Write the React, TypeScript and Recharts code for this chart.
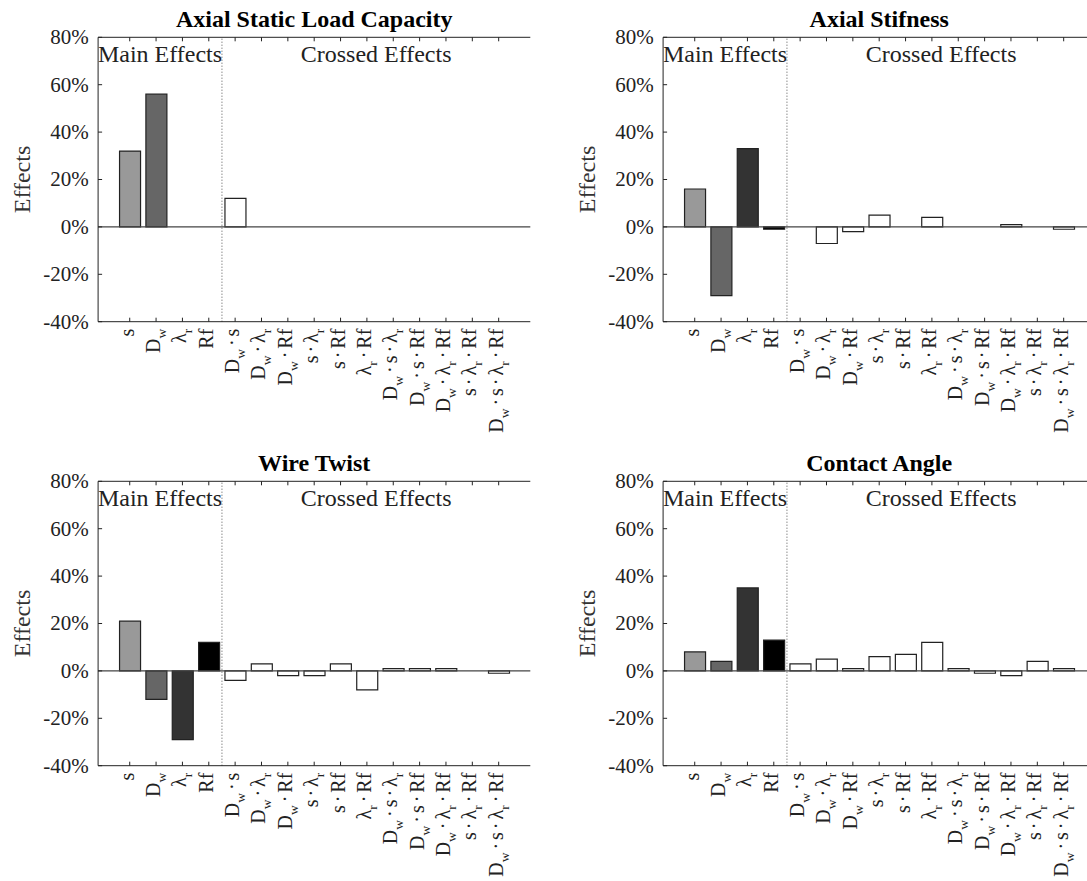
import React from 'react';
import { BarChart, Bar, Cell, XAxis, YAxis, ReferenceLine, ReferenceArea, Label } from 'recharts';

// effect names: "_x" marks a one-letter subscript
const effects = [
  's', 'D_w', 'λ_r', 'Rf',
  'D_w·s', 'D_w·λ_r', 'D_w·Rf', 's·λ_r', 's·Rf', 'λ_r·Rf',
  'D_w·s·λ_r', 'D_w·s·Rf', 'D_w·λ_r·Rf', 's·λ_r·Rf', 'D_w·s·λ_r·Rf',
];

// effects in %
const loadCapacity = [32, 56, 0, 0, 12, 0, 0, 0, 0, 0, 0, 0, 0, 0, 0];
const axialStiffness = [16, -29, 33, -1, 0, -7, -2, 5, 0, 4, 0, 0, 1, 0, -1];
const wireTwist = [21, -12, -29, 12, -4, 3, -2, -2, 3, -8, 1, 1, 1, 0, -1];
const contactAngle = [8, 4, 35, 13, 3, 5, 1, 6, 7, 12, 1, -1, -2, 4, 1];

const percentTicks = [-40, -20, 0, 20, 40, 60, 80];
const effectTicks = effects.map((_, i) => i + 1);
const MAIN_COUNT = 4;

const FONT = '"Liberation Serif", "Times New Roman", serif';
const INK = '#222';
const mainFills = ['#999999', '#666666', '#333333', '#000000'];

const AXIS_W = 98.1;
const PLOT_W = 432.2;
const PLOT_H = 284.4;
const TOP = 36.3;
const XAXIS_H = 122.3;
const CHART_W = AXIS_W + PLOT_W + 2;
const CHART_H = TOP + 1 + PLOT_H + XAXIS_H;
const TICK_LEN = 4;
const MARGIN = 6;

type Part = { text: string; sub?: boolean; dot?: boolean };

function splitLabel(label: string) {
  const parts: Part[] = [];
  label.split(/(_.|·)/).forEach((p) => {
    if (!p) return;
    if (p === '·') parts.push({ text: '·', dot: true });
    else if (p.startsWith('_')) parts.push({ text: p.slice(1), sub: true });
    else parts.push({ text: p });
  });
  return parts;
}

// rotated effect names under the axis, plus the inward tick mark
const EffectTick = ({ x, y, payload }: any) => {
  const parts = splitLabel(effects[Math.round(payload.value) - 1] ?? '');
  const axisY = y - MARGIN;
  let lowered = false;
  let afterDot = false;
  return (
    <g>
      <line x1={x} x2={x} y1={axisY} y2={axisY - TICK_LEN} stroke={INK} />
      <text
        transform={`translate(${x + 4},${axisY + 7}) rotate(-90)`}
        textAnchor="end"
        fontFamily={FONT}
        fontSize={20}
        fill={INK}
      >
        {parts.map((p, i) => {
          const dy = p.sub ? 6 : lowered ? -6 : 0;
          const dx = p.dot || afterDot ? 3 : 0;
          lowered = !!p.sub;
          afterDot = !!p.dot;
          return (
            <tspan key={i} dx={dx} dy={dy} fontSize={p.sub ? 13.5 : 20}>
              {p.text}
            </tspan>
          );
        })}
      </text>
    </g>
  );
};

const TopTick = ({ x, y }: any) => (
  <line x1={x} x2={x} y1={y + MARGIN} y2={y + MARGIN + TICK_LEN} stroke={INK} />
);

const PercentTick = ({ x, y, payload }: any) => (
  <g>
    <line x1={x + MARGIN} x2={x + MARGIN + TICK_LEN} y1={y} y2={y} stroke={INK} />
    <text x={x - 3.3} y={y} textAnchor="end" dominantBaseline="central" fontFamily={FONT} fontSize={21} fill={INK}>
      {`${payload.value}%`}
    </text>
  </g>
);

const RightTick = ({ x, y }: any) => (
  <line x1={x - MARGIN} x2={x - MARGIN - TICK_LEN} y1={y} y2={y} stroke={INK} />
);

const EffectsPanel = ({ title, values, left, top }: { title: string; values: number[]; left: number; top: number }) => {
  const rows = effects.map((name, i) => ({ pos: i + 1, name, value: values[i] }));
  return (
    <div style={{ position: 'absolute', left, top }}>
      <BarChart width={CHART_W} height={CHART_H} data={rows} margin={{ top: TOP, right: 2, bottom: 0, left: 0 }}>
        <XAxis
          xAxisId="b"
          dataKey="pos"
          type="number"
          domain={[-0.2, 16.2]}
          allowDataOverflow
          ticks={effectTicks}
          interval={0}
          height={XAXIS_H}
          tickLine={false}
          tickSize={0}
          tickMargin={MARGIN}
          tick={<EffectTick />}
          stroke={INK}
        />
        <XAxis
          xAxisId="t"
          orientation="top"
          dataKey="pos"
          type="number"
          domain={[-0.2, 16.2]}
          allowDataOverflow
          ticks={effectTicks}
          interval={0}
          height={1}
          tickLine={false}
          tickSize={0}
          tickMargin={MARGIN}
          tick={<TopTick />}
          stroke={INK}
        >
          <Label
            value={title}
            position="top"
            offset={9}
            fontFamily={FONT}
            fontSize={24}
            fontWeight="bold"
            fill="#000"
          />
        </XAxis>
        <YAxis
          yAxisId="l"
          domain={[-40, 80]}
          allowDataOverflow
          ticks={percentTicks}
          interval={0}
          width={AXIS_W}
          tickLine={false}
          tickSize={0}
          tickMargin={MARGIN}
          tick={<PercentTick />}
          stroke={INK}
        >
          <Label
            content={({ viewBox }: any) => {
              const cx = viewBox.x + 22.4;
              const cy = viewBox.y + viewBox.height / 2;
              return (
                <text
                  x={cx}
                  y={cy}
                  transform={`rotate(-90, ${cx}, ${cy})`}
                  textAnchor="middle"
                  dominantBaseline="central"
                  fontFamily={FONT}
                  fontSize={24}
                  fill="#333"
                >
                  Effects
                </text>
              );
            }}
          />
        </YAxis>
        <YAxis
          yAxisId="r"
          orientation="right"
          domain={[-40, 80]}
          allowDataOverflow
          ticks={percentTicks}
          interval={0}
          width={0}
          tickLine={false}
          tickSize={0}
          tickMargin={MARGIN}
          tick={<RightTick />}
          stroke={INK}
        />
        <ReferenceArea
          xAxisId="b"
          yAxisId="l"
          x1={-0.2}
          x2={MAIN_COUNT + 0.5}
          fillOpacity={0}
          strokeOpacity={0}
          label={{ value: 'Main Effects', position: 'insideTop', offset: 8, fontFamily: FONT, fontSize: 24, fill: INK }}
        />
        <ReferenceArea
          xAxisId="b"
          yAxisId="l"
          x1={MAIN_COUNT + 0.5}
          x2={16.2}
          fillOpacity={0}
          strokeOpacity={0}
          label={{ value: 'Crossed Effects', position: 'insideTop', offset: 8, fontFamily: FONT, fontSize: 24, fill: INK }}
        />
        <ReferenceLine xAxisId="b" yAxisId="l" y={0} stroke="#444" strokeWidth={1.4} />
        <ReferenceLine xAxisId="b" yAxisId="l" x={MAIN_COUNT + 0.5} stroke="#555" strokeDasharray="1 2" />
        <Bar
          dataKey="value"
          xAxisId="b"
          yAxisId="l"
          barSize={21}
          stroke={INK}
          strokeWidth={1.2}
          isAnimationActive={false}
        >
          {rows.map((r, i) => (
            <Cell key={r.name} fill={i < MAIN_COUNT ? mainFills[i] : '#ffffff'} />
          ))}
        </Bar>
      </BarChart>
    </div>
  );
};

export default function App() {
  return (
    <div style={{ position: 'fixed', left: 0, top: 0, width: 1087, height: 881, overflow: 'hidden', background: '#fff' }}>
      <EffectsPanel title="Axial Static Load Capacity" values={loadCapacity} left={0} top={0} />
      <EffectsPanel title="Axial Stifness" values={axialStiffness} left={565.4} top={0} />
      <EffectsPanel title="Wire Twist" values={wireTwist} left={0} top={444.4} />
      <EffectsPanel title="Contact Angle" values={contactAngle} left={565.4} top={444.4} />
    </div>
  );
}
